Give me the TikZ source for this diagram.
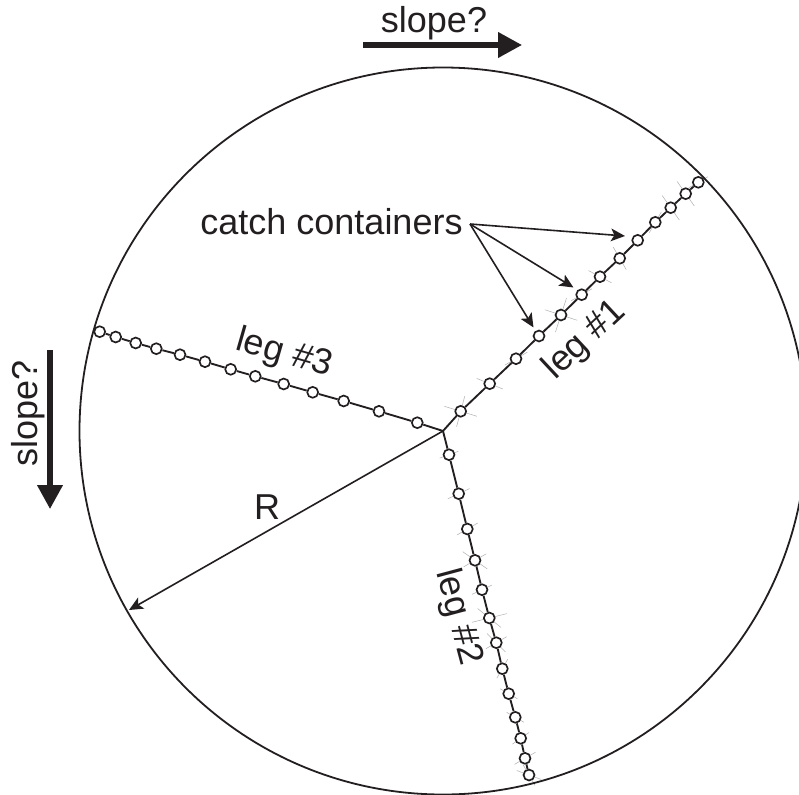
\documentclass[tikz,border=0pt]{standalone}
\usepackage{fontspec}
\setmainfont{Liberation Sans}
\usetikzlibrary{arrows.meta,backgrounds}
\definecolor{inkblack}{RGB}{35,31,32}
\tikzset{
  rim/.style={draw=inkblack, line width=1.35pt},
  leg/.style={draw=inkblack, line width=1.4pt},
  bead/.style={circle, draw=inkblack, fill=white, line width=1.25pt,
               inner sep=0pt, minimum size=8.2pt},
  tick/.style={draw=black!30, line width=0.4pt},
  pointer/.style={-{Stealth[length=10.5pt, width=9.5pt, inset=2.5pt]}, draw=inkblack, line width=1.2pt},
  slopearrow/.style={-{Triangle[length=18pt, width=18.5pt]}, draw=inkblack, line width=3.8pt},
  label/.style={font=\fontsize{27pt}{30pt}\selectfont, text=inkblack, inner sep=0pt}
}
\begin{document}
\begin{tikzpicture}[x=0.75pt, y=-0.75pt]
\clip (0,0) rectangle (799,795);
\coordinate (hub) at (443,431);
\draw[rim] (hub) circle (363.5);
% beads along the three legs
\foreach \i/\x/\y in {1/460.7/411.3, 2/489.7/383.7, 3/516/358.7, 4/539/336,
  5/561/315, 6/581.7/294.7, 7/600/276.7, 8/619.7/258.3, 9/637.7/240.3,
  10/655.3/222.3, 11/670.7/207.7, 12/685.7/193.7, 13/698.3/182.3}
  \node[bead] (a\i) at (\x,\y) {};
\foreach \i/\x/\y in {1/449/454.7, 2/458.7/493.7, 3/467.3/529, 4/475/560.3,
  5/482/589.7, 6/489.3/618, 7/496.3/642.7, 8/502.3/668.7, 9/508.7/693.7,
  10/515.3/717.3, 11/520.7/738.3, 12/525/758.3, 13/529/775}
  \node[bead] (b\i) at (\x,\y) {};
\foreach \i/\x/\y in {1/417.3/422.7, 2/379/411.3, 3/343.7/401, 4/312.7/392.3,
  5/283.7/384, 6/255.3/376.3, 7/230.7/369.3, 8/205/361.7, 9/180/354.7,
  10/156.3/348.7, 11/135.7/343, 12/115.7/337, 13/99.7/331.7}
  \node[bead] (c\i) at (\x,\y) {};
\foreach \s in {a,b,c}{
  \draw[leg] (hub) -- (\s1);
  \foreach \i [count=\j from 2] in {1,...,12}
    \draw[leg] (\s\i) -- (\s\j);
}
% faint marks behind the beads
\begin{scope}[on background layer]
\foreach \n/\ang/\len in {a1/17/17, a1/105/16, a2/22/14, a3/-30/13, a4/-50/11,
  a5/18/17, a5/108/18, a6/-30/12, a7/28/13, a8/60/13, a9/-50/9, a10/-60/12,
  a11/55/15, a12/55/15, a13/-30/11,
  b1/-20/10, b2/-25/12, b3/-30/12, b4/35/15, b4/-30/13, b5/-25/11,
  b6/-14/18, b6/39/15, b7/-30/12, b7/45/13, b8/-60/11, b9/30/10,
  b10/30/10, b11/-35/10, b12/-30/12, b13/20/13, b13/60/12}
  \draw[tick] (\n) ++(\ang:\len) -- ++(\ang+180:2*\len);
\end{scope}
% labels
\node[label, anchor=base] (slopetop) at (434,33) {slope?};
\node[label, anchor=base, rotate=90] (slopeleft) at (37.5,413.5) {slope?};
\node[label, anchor=base] (catch) at (331.5,234.5) {catch containers};
\node[label, anchor=base] (radius) at (267,519) {R};
\node[label, rotate=43] (leg1) at (585,340) {leg \#1};
\node[label, rotate=-75] (leg2) at (458,617) {leg \#2};
\node[label, rotate=-16] (leg3) at (284,354) {leg \#3};
% arrows
\coordinate (topstart) at (363,45);
\coordinate (topend) at (522,45);
\coordinate (leftstart) at (50,350);
\coordinate (leftend) at (50,509);
\coordinate (catchroot) at (470,224);
\coordinate (tipa) at (625,236);
\coordinate (tipb) at (573.5,287.5);
\coordinate (tipc) at (533.5,327.5);
\coordinate (rimpoint) at (129,610);
\draw[slopearrow] (topstart) -- (topend);
\draw[slopearrow] (leftstart) -- (leftend);
\foreach \t in {tipa,tipb,tipc}
  \draw[pointer] (catchroot) -- (\t);
\draw[pointer] (hub) -- (rimpoint);
\end{tikzpicture}
\end{document}
